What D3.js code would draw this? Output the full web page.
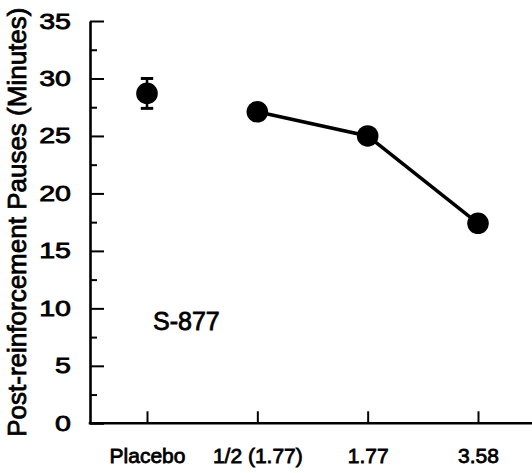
<!DOCTYPE html>
<html lang="en">
<head>
    <meta charset="UTF-8">
    <title>S-877 post-reinforcement pauses</title>
    <script src="https://cdn.jsdelivr.net/npm/d3@7"></script>
    <style>
        body { margin: 0; background: #fff; }
        text {
            font-family: "Liberation Sans", Arial, Helvetica, sans-serif;
            fill: #000;
            stroke: #000;
            stroke-width: .8;
        }
        .axis path, .axis line { stroke: #000; }
    </style>
</head>
<body>
<svg width="532" height="473"></svg>

<script>
    // dose groups on the x axis
    const doses = ["Placebo", "1/2 (1.77)", "1.77", "3.58"];
    // mean pause (minutes) per dose
    const pauses = [28.7, 27.1, 25.0, 17.4];
    // standard error, only drawn for the placebo group
    const errors = [1.3, null, null, null];
    // which points are joined by the line
    const connected = [false, true, true, true];

    const yMajor = [0, 5, 10, 15, 20, 25, 30, 35];
    const yMinor = [2.5, 7.5, 12.5, 17.5, 22.5, 27.5, 32.5];

    const yTitle = "Post-reinforcement Pauses (Minutes)";
    const drugLabel = "S-877";

    const svg = d3.select("svg");
    const width = +svg.attr("width");

    const x = d3.scalePoint().domain(doses).range([147, 478]);
    const y = d3.scaleLinear().domain([0, 35]).range([423.3, 21]);
    const left = 90;

    const rows = doses.map((d, i) => ({dose: d, pause: pauses[i], err: errors[i], joined: connected[i]}));

    // y axis: major ticks pointing inwards, labels stretched wide like the scan
    const yAxis = svg.append("g").attr("class", "axis")
        .attr("transform", `translate(${left},0)`)
        .call(d3.axisLeft(y).tickValues(yMajor).tickSizeInner(-14).tickSizeOuter(0).tickPadding(19));
    yAxis.select(".domain").attr("stroke-width", 2.6);
    yAxis.selectAll(".tick line").attr("stroke-width", 2);
    yAxis.selectAll(".tick text")
        .attr("font-size", 22)
        .attr("x", -19 / 1.3)
        .attr("transform", "scale(1.3,1)");

    svg.append("g").attr("class", "axis")
        .attr("transform", `translate(${left},0)`)
        .call(d3.axisLeft(y).tickValues(yMinor).tickSizeInner(-7).tickSizeOuter(0).tickFormat(""))
        .call(g => g.select(".domain").remove())
        .selectAll(".tick line").attr("stroke-width", 2);

    // x axis
    const xAxis = svg.append("g").attr("class", "axis")
        .attr("transform", `translate(0,${y(0)})`)
        .call(d3.axisBottom(x).tickSizeInner(-12).tickSizeOuter(0).tickPadding(25));
    xAxis.select(".domain").remove();
    xAxis.selectAll(".tick line").attr("stroke-width", 2);
    xAxis.selectAll(".tick text").attr("font-size", 21);
    xAxis.append("line")
        .attr("x1", left - 1.3).attr("x2", width)
        .attr("stroke", "#000").attr("stroke-width", 2.6);

    // y title
    svg.append("text")
        .attr("transform", `translate(25.5,${(y(0) + y(35)) / 2}) rotate(-90)`)
        .attr("text-anchor", "middle")
        .attr("font-size", 26)
        .text(yTitle);

    // line through the drug doses
    const line = d3.line().x(d => x(d.dose)).y(d => y(d.pause));
    svg.append("path")
        .datum(rows.filter(d => d.joined))
        .attr("d", line)
        .attr("fill", "none")
        .attr("stroke", "#000")
        .attr("stroke-width", 3.5);

    // error bars
    const eb = svg.selectAll("g.err")
        .data(rows.filter(d => d.err != null))
        .join("g").attr("class", "err");
    eb.append("line")
        .attr("x1", d => x(d.dose)).attr("x2", d => x(d.dose))
        .attr("y1", d => y(d.pause + d.err)).attr("y2", d => y(d.pause - d.err))
        .attr("stroke", "#000").attr("stroke-width", 2.5);
    eb.selectAll("line.cap")
        .data(d => [d.pause + d.err, d.pause - d.err].map(v => ({dose: d.dose, v})))
        .join("line").attr("class", "cap")
        .attr("x1", d => x(d.dose) - 6.2).attr("x2", d => x(d.dose) + 6.2)
        .attr("y1", d => y(d.v)).attr("y2", d => y(d.v))
        .attr("stroke", "#000").attr("stroke-width", 3);

    // points
    svg.selectAll("circle.pt")
        .data(rows)
        .join("circle").attr("class", "pt")
        .attr("cx", d => x(d.dose))
        .attr("cy", d => y(d.pause))
        .attr("r", 10.8)
        .attr("fill", "#000");

    svg.append("text")
        .attr("x", x("Placebo") + 6)
        .attr("y", y(8.15))
        .attr("font-size", 25)
        .text(drugLabel);
</script>
</body>
</html>
